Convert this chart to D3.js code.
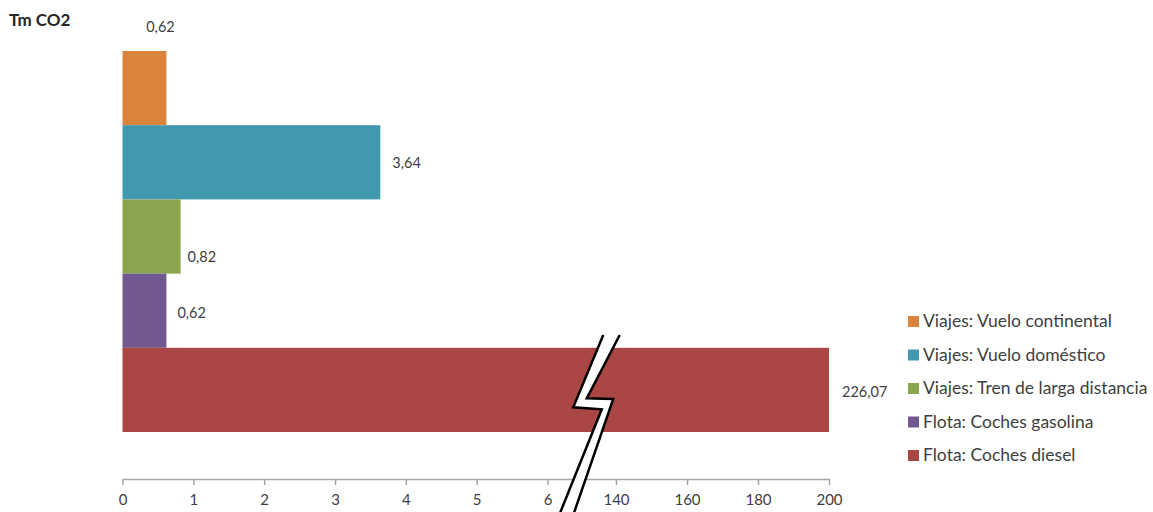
<!DOCTYPE html>
<html>
<head>
<meta charset="utf-8">
<script src="https://cdn.jsdelivr.net/npm/d3@7"></script>
<style>
  html, body { margin: 0; padding: 0; background: #fff; }
  svg { display: block; }
  text { font-family: Lato, "Open Sans", sans-serif; }
</style>
</head>
<body>
<svg id="chart" width="1153" height="512"></svg>
<script>
// ---- data ----
const categories = [
  "Viajes: Vuelo continental",
  "Viajes: Vuelo doméstico",
  "Viajes: Tren de larga distancia",
  "Flota: Coches gasolina",
  "Flota: Coches diesel"
];
const values = [0.62, 3.64, 0.82, 0.62, 226.07];
const valueLabels = ["0,62", "3,64", "0,82", "0,62", "226,07"];
const colors = ["#DB843D", "#4198AF", "#89A54E", "#71588F", "#AA4643"];
const tickValues = [0, 1, 2, 3, 4, 5, 6, 140, 160, 180, 200];
const tickLabels = ["0", "1", "2", "3", "4", "5", "6", "140", "160", "180", "200"];
const yTitle = "Tm CO2";

// ---- layout ----
const svg = d3.select("#chart");
const axisY = 479;

// broken axis: 0..6 on left, 140..200 on right
const x = d3.scaleLinear()
  .domain([0, 6, 140, 200])
  .range([122.5, 547.5, 616, 829])
  .clamp(true);

const y = d3.scaleBand()
  .domain(categories)
  .range([51, 422])
  .padding(0);

const barH = i => i === categories.length - 1 ? y.bandwidth() + 10 : y.bandwidth();

// bars
svg.append("g").selectAll("rect")
  .data(categories)
  .join("rect")
  .attr("x", x(0))
  .attr("y", d => y(d))
  .attr("width", (d, i) => x(values[i]) - x(0))
  .attr("height", (d, i) => barH(i))
  .attr("fill", (d, i) => colors[i]);

// value labels (placement offsets per bar)
const labelPos = [
  {dx: 16, dy: -19, anchor: "middle", at: "mid"},
  {dx: 12, dy: 6, anchor: "start", at: "end"},
  {dx: 7, dy: 25, anchor: "start", at: "end"},
  {dx: 11, dy: 7, anchor: "start", at: "end"},
  {dx: 13, dy: 7, anchor: "start", at: "end"}
];
svg.append("g").selectAll("text")
  .data(categories)
  .join("text")
  .attr("x", (d, i) => {
    const p = labelPos[i];
    return p.at === "mid" ? (x(0) + x(values[i])) / 2 + p.dx : x(values[i]) + p.dx;
  })
  .attr("y", (d, i) => {
    const p = labelPos[i];
    if (p.at === "mid") return y(d) + p.dy;
    return y(d) + barH(i) / 2 + p.dy;
  })
  .attr("text-anchor", (d, i) => labelPos[i].anchor)
  .attr("font-size", 14.5)
  .attr("fill", "#404040")
  .text((d, i) => valueLabels[i]);

// axis
const axis = d3.axisBottom(x)
  .tickValues(tickValues)
  .tickFormat((d, i) => tickLabels[i])
  .tickSize(6)
  .tickSizeOuter(0);
const gAxis = svg.append("g")
  .attr("transform", `translate(0,${axisY})`)
  .call(axis);
gAxis.select(".domain").attr("stroke", "#a6a6a6").attr("stroke-width", 1.5);
gAxis.selectAll(".tick line").attr("stroke", "#a6a6a6").attr("stroke-width", 1.5);
gAxis.selectAll(".tick text")
  .attr("font-size", 15)
  .attr("font-family", "Lato, 'Open Sans', sans-serif")
  .attr("fill", "#404040")
  .attr("dy", "1.15em");

// break symbol (lightning) centered between the two axis segments
const bx = (x(6) + x(140)) / 2;
const leftPts = [[21.5, -144], [-8.5, -71.7], [20, -69.7], [-22.5, 36]];
const rightPts = [[38, -144], [5, -80.7], [31.5, -80], [-8.5, 36]];
const toAbs = p => [bx + p[0], axisY + p[1]];
const line = d3.line();
svg.append("path")
  .attr("d", line(leftPts.map(toAbs).concat(rightPts.slice().reverse().map(toAbs))) + "Z")
  .attr("fill", "#fff");
[leftPts, rightPts].forEach(pts => {
  svg.append("path")
    .attr("d", line(pts.map(toAbs)))
    .attr("fill", "none")
    .attr("stroke", "#000")
    .attr("stroke-width", 2.5)
    .attr("stroke-linejoin", "miter");
});

// title
svg.append("text")
  .attr("x", 9)
  .attr("y", 26)
  .attr("font-size", 17)
  .attr("font-weight", "bold")
  .attr("fill", "#262626")
  .text(yTitle);

// legend
const legend = svg.append("g").attr("transform", "translate(908,0)");
const rowY = d3.scalePoint().domain(categories).range([321, 455]);
const items = legend.selectAll("g")
  .data(categories)
  .join("g")
  .attr("transform", d => `translate(0,${rowY(d)})`);
items.append("rect")
  .attr("x", 0).attr("y", -5)
  .attr("width", 11).attr("height", 11)
  .attr("fill", (d, i) => colors[i]);
items.append("text")
  .attr("x", 15)
  .attr("y", 6)
  .attr("font-size", 17.5)
  .attr("fill", "#404040")
  .text(d => d);
</script>
</body>
</html>
